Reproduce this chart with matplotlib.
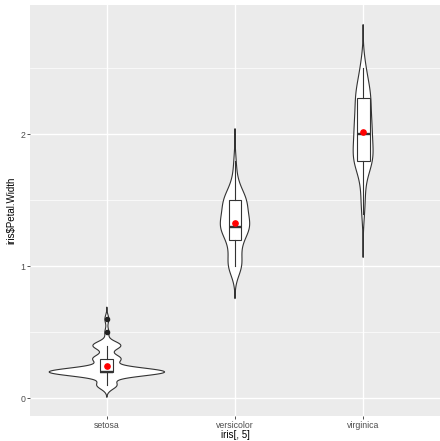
import numpy as np
import matplotlib
matplotlib.use("Agg")
import matplotlib.pyplot as plt

plt.rcParams["font.family"] = ["Liberation Sans", "DejaVu Sans"]

# iris petal widths, one list per species
species = ["setosa", "versicolor", "virginica"]
setosa = [0.2, 0.2, 0.2, 0.2, 0.2, 0.4, 0.3, 0.2, 0.2, 0.1, 0.2, 0.2, 0.1, 0.1, 0.2, 0.4, 0.4,
          0.3, 0.3, 0.3, 0.2, 0.4, 0.2, 0.5, 0.2, 0.2, 0.4, 0.2, 0.2, 0.2, 0.2, 0.4, 0.1, 0.2,
          0.2, 0.2, 0.2, 0.1, 0.2, 0.2, 0.3, 0.3, 0.2, 0.6, 0.4, 0.3, 0.2, 0.2, 0.2, 0.2]
versicolor = [1.4, 1.5, 1.5, 1.3, 1.5, 1.3, 1.6, 1.0, 1.3, 1.4, 1.0, 1.5, 1.0, 1.4, 1.3, 1.4,
              1.5, 1.0, 1.5, 1.1, 1.8, 1.3, 1.5, 1.2, 1.3, 1.4, 1.4, 1.7, 1.5, 1.0, 1.1, 1.0,
              1.2, 1.6, 1.5, 1.6, 1.5, 1.3, 1.3, 1.3, 1.2, 1.4, 1.2, 1.0, 1.3, 1.2, 1.3, 1.3,
              1.1, 1.3]
virginica = [2.5, 1.9, 2.1, 1.8, 2.2, 2.1, 1.7, 1.8, 1.8, 2.5, 2.0, 1.9, 2.1, 2.0, 2.4, 2.3,
             1.8, 2.2, 2.3, 1.5, 2.3, 2.0, 2.0, 1.8, 2.1, 1.8, 1.8, 1.8, 2.1, 1.6, 1.9, 2.0,
             2.2, 1.5, 1.4, 2.3, 2.4, 1.8, 1.8, 2.1, 1.8, 2.1, 2.3, 1.9, 2.3, 2.5, 2.3, 1.9,
             2.0, 2.3]
groups = [setosa, versicolor, virginica]
yticks = [0, 1, 2]

edge = "#333333"


def bw_nrd0(x):
    x = np.asarray(x)
    q1, q3 = np.percentile(x, [25, 75])
    lo = min(np.std(x, ddof=1), (q3 - q1) / 1.34)
    return 0.9 * lo * len(x) ** -0.2


def kde(x, n=512, cut=3):
    x = np.asarray(x)
    bw = bw_nrd0(x)
    grid = np.linspace(x.min() - cut * bw, x.max() + cut * bw, n)
    z = (grid[:, None] - x[None, :]) / bw
    dens = np.exp(-0.5 * z ** 2).sum(axis=1) / (len(x) * bw * np.sqrt(2 * np.pi))
    return grid, dens


fig = plt.figure(figsize=(4.40, 4.41), dpi=100)
ax = fig.add_axes([30 / 440, 25 / 441, 410 / 440, 411 / 441])
ax.set_facecolor("#EBEBEB")

# violins, scaled so the widest density is 0.9 wide
curves = [kde(g) for g in groups]
dmax = max(d.max() for _, d in curves)
for i, (grid, dens) in enumerate(curves):
    pos = i + 1
    half = 0.45 * dens / dmax
    xs = np.concatenate([pos - half, (pos + half)[::-1]])
    ys = np.concatenate([grid, grid[::-1]])
    ax.fill(xs, ys, facecolor="white", edgecolor=edge, linewidth=0.8, zorder=2)

# boxplots on top
ax.boxplot(groups, positions=[1, 2, 3], widths=0.1, whis=1.5, patch_artist=True,
           manage_ticks=False,
           boxprops=dict(facecolor="white", edgecolor=edge, linewidth=0.8),
           whiskerprops=dict(color=edge, linewidth=0.8),
           capprops=dict(linewidth=0),
           medianprops=dict(color=edge, linewidth=1.7),
           flierprops=dict(marker="o", markersize=3, markerfacecolor="#222222",
                           markeredgecolor="#222222"),
           zorder=3)

# group means
for i, g in enumerate(groups):
    ax.plot(i + 1, np.mean(g), "o", color="red", markersize=3.8, zorder=4)

ax.set_xlim(0.4, 3.6)
ax.set_ylim(-0.1336, 2.9805)
ax.set_xticks([1, 2, 3])
ax.set_xticklabels(species)
ax.set_yticks(yticks)
ax.set_yticklabels([str(t) for t in yticks])
ax.set_yticks([0.5, 1.5, 2.5], minor=True)
ax.tick_params(axis="x", which="minor", bottom=False)

ax.grid(True, which="major", color="white", linewidth=1.0, zorder=0)
ax.grid(True, which="minor", axis="y", color="white", linewidth=0.5, zorder=0)
ax.set_axisbelow(True)
for s in ax.spines.values():
    s.set_visible(False)
ax.tick_params(which="major", length=2.2, width=0.6, color="#333333",
               labelsize=6.3, labelcolor="#4D4D4D", pad=1.2)
ax.tick_params(axis="y", which="minor", length=0)

ax.set_xlabel("iris[, 5]", fontsize=7, labelpad=0.5)
ax.set_ylabel(r"iris\$Petal.Width", fontsize=7, labelpad=3)

fig.savefig("out.png", dpi=100)
